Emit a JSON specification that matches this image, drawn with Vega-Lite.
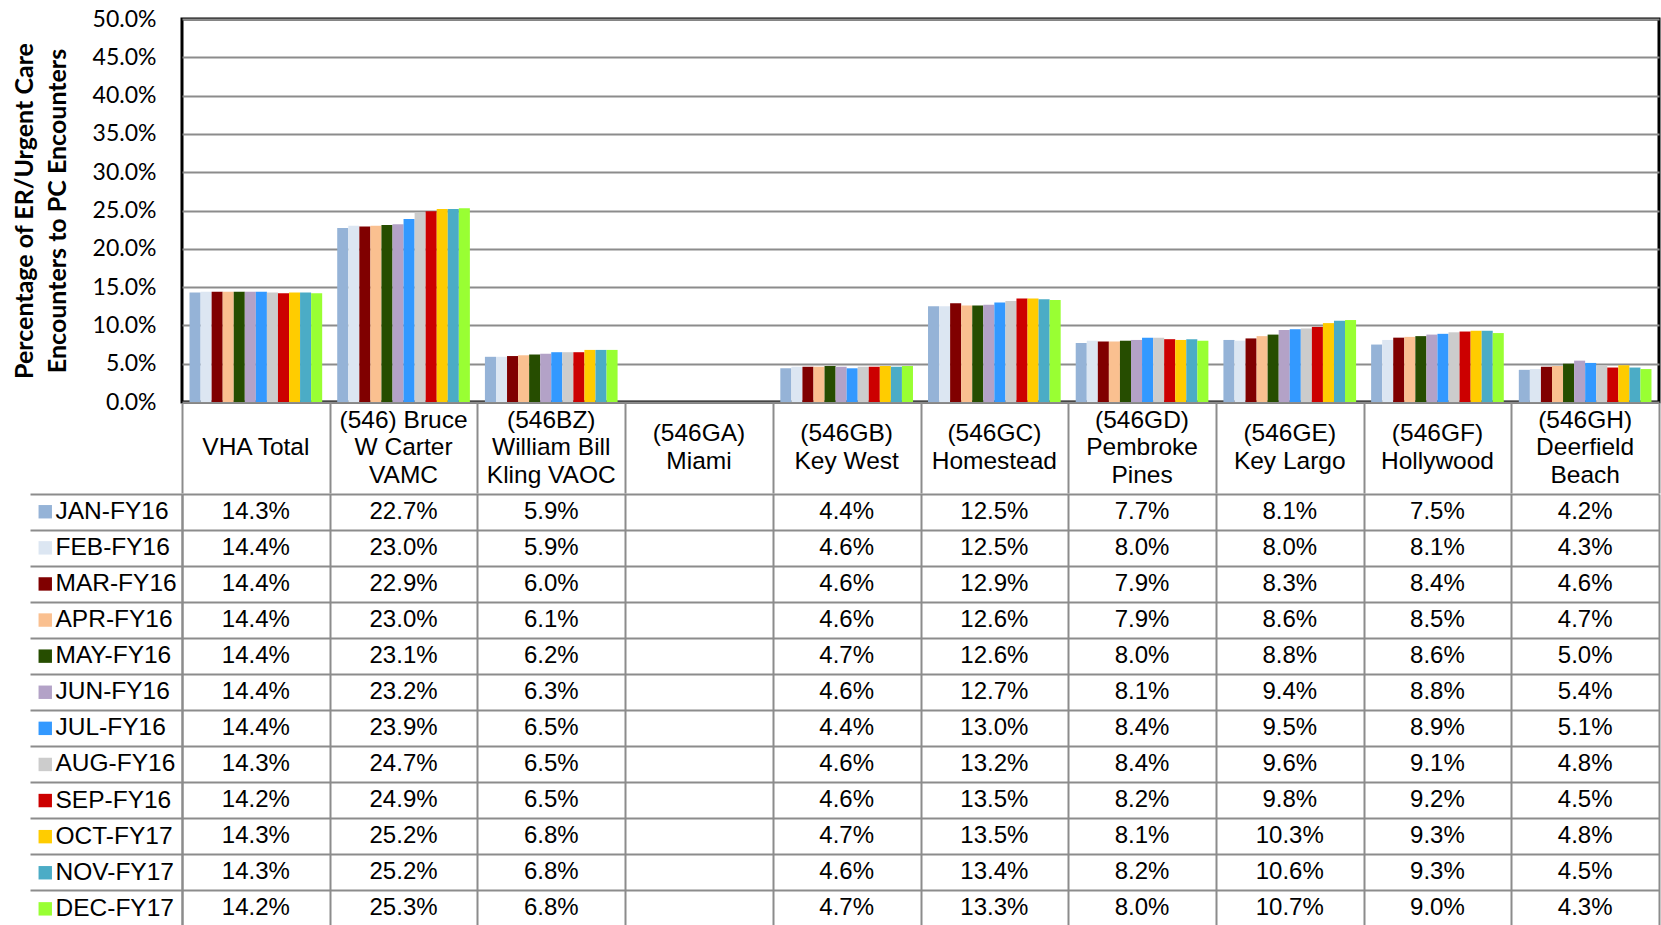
{
  "$schema": "https://vega.github.io/schema/vega-lite/v6.json",
  "padding": {"left": 10, "top": 6, "right": 0, "bottom": 0},
  "background": "white",
  "spacing": 1,
  "bounds": "flush",
  "config": {"font": "Liberation Sans", "view": {"stroke": null}},
  "resolve": {"scale": {"x": "independent", "y": "independent", "color": "independent"}, "legend": {"color": "independent"}},
  "datasets": {
    "sites": [
      {"site": "VHA Total"},
      {"site": "(546) Bruce\nW Carter\nVAMC"},
      {"site": "(546BZ)\nWilliam Bill\nKling VAOC"},
      {"site": "(546GA)\nMiami"},
      {"site": "(546GB)\nKey West"},
      {"site": "(546GC)\nHomestead"},
      {"site": "(546GD)\nPembroke\nPines"},
      {"site": "(546GE)\nKey Largo"},
      {"site": "(546GF)\nHollywood"},
      {"site": "(546GH)\nDeerfield\nBeach"}
    ],
    "rates": [
      {"site": "VHA Total", "month": "JAN-FY16", "value": 0.143},
      {"site": "VHA Total", "month": "FEB-FY16", "value": 0.144},
      {"site": "VHA Total", "month": "MAR-FY16", "value": 0.144},
      {"site": "VHA Total", "month": "APR-FY16", "value": 0.144},
      {"site": "VHA Total", "month": "MAY-FY16", "value": 0.144},
      {"site": "VHA Total", "month": "JUN-FY16", "value": 0.144},
      {"site": "VHA Total", "month": "JUL-FY16", "value": 0.144},
      {"site": "VHA Total", "month": "AUG-FY16", "value": 0.143},
      {"site": "VHA Total", "month": "SEP-FY16", "value": 0.142},
      {"site": "VHA Total", "month": "OCT-FY17", "value": 0.143},
      {"site": "VHA Total", "month": "NOV-FY17", "value": 0.143},
      {"site": "VHA Total", "month": "DEC-FY17", "value": 0.142},
      {"site": "(546) Bruce\nW Carter\nVAMC", "month": "JAN-FY16", "value": 0.227},
      {"site": "(546) Bruce\nW Carter\nVAMC", "month": "FEB-FY16", "value": 0.230},
      {"site": "(546) Bruce\nW Carter\nVAMC", "month": "MAR-FY16", "value": 0.229},
      {"site": "(546) Bruce\nW Carter\nVAMC", "month": "APR-FY16", "value": 0.230},
      {"site": "(546) Bruce\nW Carter\nVAMC", "month": "MAY-FY16", "value": 0.231},
      {"site": "(546) Bruce\nW Carter\nVAMC", "month": "JUN-FY16", "value": 0.232},
      {"site": "(546) Bruce\nW Carter\nVAMC", "month": "JUL-FY16", "value": 0.239},
      {"site": "(546) Bruce\nW Carter\nVAMC", "month": "AUG-FY16", "value": 0.247},
      {"site": "(546) Bruce\nW Carter\nVAMC", "month": "SEP-FY16", "value": 0.249},
      {"site": "(546) Bruce\nW Carter\nVAMC", "month": "OCT-FY17", "value": 0.252},
      {"site": "(546) Bruce\nW Carter\nVAMC", "month": "NOV-FY17", "value": 0.252},
      {"site": "(546) Bruce\nW Carter\nVAMC", "month": "DEC-FY17", "value": 0.253},
      {"site": "(546BZ)\nWilliam Bill\nKling VAOC", "month": "JAN-FY16", "value": 0.059},
      {"site": "(546BZ)\nWilliam Bill\nKling VAOC", "month": "FEB-FY16", "value": 0.059},
      {"site": "(546BZ)\nWilliam Bill\nKling VAOC", "month": "MAR-FY16", "value": 0.060},
      {"site": "(546BZ)\nWilliam Bill\nKling VAOC", "month": "APR-FY16", "value": 0.061},
      {"site": "(546BZ)\nWilliam Bill\nKling VAOC", "month": "MAY-FY16", "value": 0.062},
      {"site": "(546BZ)\nWilliam Bill\nKling VAOC", "month": "JUN-FY16", "value": 0.063},
      {"site": "(546BZ)\nWilliam Bill\nKling VAOC", "month": "JUL-FY16", "value": 0.065},
      {"site": "(546BZ)\nWilliam Bill\nKling VAOC", "month": "AUG-FY16", "value": 0.065},
      {"site": "(546BZ)\nWilliam Bill\nKling VAOC", "month": "SEP-FY16", "value": 0.065},
      {"site": "(546BZ)\nWilliam Bill\nKling VAOC", "month": "OCT-FY17", "value": 0.068},
      {"site": "(546BZ)\nWilliam Bill\nKling VAOC", "month": "NOV-FY17", "value": 0.068},
      {"site": "(546BZ)\nWilliam Bill\nKling VAOC", "month": "DEC-FY17", "value": 0.068},
      {"site": "(546GB)\nKey West", "month": "JAN-FY16", "value": 0.044},
      {"site": "(546GB)\nKey West", "month": "FEB-FY16", "value": 0.046},
      {"site": "(546GB)\nKey West", "month": "MAR-FY16", "value": 0.046},
      {"site": "(546GB)\nKey West", "month": "APR-FY16", "value": 0.046},
      {"site": "(546GB)\nKey West", "month": "MAY-FY16", "value": 0.047},
      {"site": "(546GB)\nKey West", "month": "JUN-FY16", "value": 0.046},
      {"site": "(546GB)\nKey West", "month": "JUL-FY16", "value": 0.044},
      {"site": "(546GB)\nKey West", "month": "AUG-FY16", "value": 0.046},
      {"site": "(546GB)\nKey West", "month": "SEP-FY16", "value": 0.046},
      {"site": "(546GB)\nKey West", "month": "OCT-FY17", "value": 0.047},
      {"site": "(546GB)\nKey West", "month": "NOV-FY17", "value": 0.046},
      {"site": "(546GB)\nKey West", "month": "DEC-FY17", "value": 0.047},
      {"site": "(546GC)\nHomestead", "month": "JAN-FY16", "value": 0.125},
      {"site": "(546GC)\nHomestead", "month": "FEB-FY16", "value": 0.125},
      {"site": "(546GC)\nHomestead", "month": "MAR-FY16", "value": 0.129},
      {"site": "(546GC)\nHomestead", "month": "APR-FY16", "value": 0.126},
      {"site": "(546GC)\nHomestead", "month": "MAY-FY16", "value": 0.126},
      {"site": "(546GC)\nHomestead", "month": "JUN-FY16", "value": 0.127},
      {"site": "(546GC)\nHomestead", "month": "JUL-FY16", "value": 0.130},
      {"site": "(546GC)\nHomestead", "month": "AUG-FY16", "value": 0.132},
      {"site": "(546GC)\nHomestead", "month": "SEP-FY16", "value": 0.135},
      {"site": "(546GC)\nHomestead", "month": "OCT-FY17", "value": 0.135},
      {"site": "(546GC)\nHomestead", "month": "NOV-FY17", "value": 0.134},
      {"site": "(546GC)\nHomestead", "month": "DEC-FY17", "value": 0.133},
      {"site": "(546GD)\nPembroke\nPines", "month": "JAN-FY16", "value": 0.077},
      {"site": "(546GD)\nPembroke\nPines", "month": "FEB-FY16", "value": 0.080},
      {"site": "(546GD)\nPembroke\nPines", "month": "MAR-FY16", "value": 0.079},
      {"site": "(546GD)\nPembroke\nPines", "month": "APR-FY16", "value": 0.079},
      {"site": "(546GD)\nPembroke\nPines", "month": "MAY-FY16", "value": 0.080},
      {"site": "(546GD)\nPembroke\nPines", "month": "JUN-FY16", "value": 0.081},
      {"site": "(546GD)\nPembroke\nPines", "month": "JUL-FY16", "value": 0.084},
      {"site": "(546GD)\nPembroke\nPines", "month": "AUG-FY16", "value": 0.084},
      {"site": "(546GD)\nPembroke\nPines", "month": "SEP-FY16", "value": 0.082},
      {"site": "(546GD)\nPembroke\nPines", "month": "OCT-FY17", "value": 0.081},
      {"site": "(546GD)\nPembroke\nPines", "month": "NOV-FY17", "value": 0.082},
      {"site": "(546GD)\nPembroke\nPines", "month": "DEC-FY17", "value": 0.080},
      {"site": "(546GE)\nKey Largo", "month": "JAN-FY16", "value": 0.081},
      {"site": "(546GE)\nKey Largo", "month": "FEB-FY16", "value": 0.080},
      {"site": "(546GE)\nKey Largo", "month": "MAR-FY16", "value": 0.083},
      {"site": "(546GE)\nKey Largo", "month": "APR-FY16", "value": 0.086},
      {"site": "(546GE)\nKey Largo", "month": "MAY-FY16", "value": 0.088},
      {"site": "(546GE)\nKey Largo", "month": "JUN-FY16", "value": 0.094},
      {"site": "(546GE)\nKey Largo", "month": "JUL-FY16", "value": 0.095},
      {"site": "(546GE)\nKey Largo", "month": "AUG-FY16", "value": 0.096},
      {"site": "(546GE)\nKey Largo", "month": "SEP-FY16", "value": 0.098},
      {"site": "(546GE)\nKey Largo", "month": "OCT-FY17", "value": 0.103},
      {"site": "(546GE)\nKey Largo", "month": "NOV-FY17", "value": 0.106},
      {"site": "(546GE)\nKey Largo", "month": "DEC-FY17", "value": 0.107},
      {"site": "(546GF)\nHollywood", "month": "JAN-FY16", "value": 0.075},
      {"site": "(546GF)\nHollywood", "month": "FEB-FY16", "value": 0.081},
      {"site": "(546GF)\nHollywood", "month": "MAR-FY16", "value": 0.084},
      {"site": "(546GF)\nHollywood", "month": "APR-FY16", "value": 0.085},
      {"site": "(546GF)\nHollywood", "month": "MAY-FY16", "value": 0.086},
      {"site": "(546GF)\nHollywood", "month": "JUN-FY16", "value": 0.088},
      {"site": "(546GF)\nHollywood", "month": "JUL-FY16", "value": 0.089},
      {"site": "(546GF)\nHollywood", "month": "AUG-FY16", "value": 0.091},
      {"site": "(546GF)\nHollywood", "month": "SEP-FY16", "value": 0.092},
      {"site": "(546GF)\nHollywood", "month": "OCT-FY17", "value": 0.093},
      {"site": "(546GF)\nHollywood", "month": "NOV-FY17", "value": 0.093},
      {"site": "(546GF)\nHollywood", "month": "DEC-FY17", "value": 0.090},
      {"site": "(546GH)\nDeerfield\nBeach", "month": "JAN-FY16", "value": 0.042},
      {"site": "(546GH)\nDeerfield\nBeach", "month": "FEB-FY16", "value": 0.043},
      {"site": "(546GH)\nDeerfield\nBeach", "month": "MAR-FY16", "value": 0.046},
      {"site": "(546GH)\nDeerfield\nBeach", "month": "APR-FY16", "value": 0.047},
      {"site": "(546GH)\nDeerfield\nBeach", "month": "MAY-FY16", "value": 0.050},
      {"site": "(546GH)\nDeerfield\nBeach", "month": "JUN-FY16", "value": 0.054},
      {"site": "(546GH)\nDeerfield\nBeach", "month": "JUL-FY16", "value": 0.051},
      {"site": "(546GH)\nDeerfield\nBeach", "month": "AUG-FY16", "value": 0.048},
      {"site": "(546GH)\nDeerfield\nBeach", "month": "SEP-FY16", "value": 0.045},
      {"site": "(546GH)\nDeerfield\nBeach", "month": "OCT-FY17", "value": 0.048},
      {"site": "(546GH)\nDeerfield\nBeach", "month": "NOV-FY17", "value": 0.045},
      {"site": "(546GH)\nDeerfield\nBeach", "month": "DEC-FY17", "value": 0.043}
    ]
  },
  "vconcat": [
    {
      "width": 1477,
      "height": 383,
      "data": {"name": "rates"},
      "view": {"stroke": "#000000", "strokeWidth": 3},
      "mark": {"type": "bar"},
      "encoding": {
        "x": {"field": "site", "type": "nominal",
          "scale": {"domain": ["VHA Total", "(546) Bruce\nW Carter\nVAMC", "(546BZ)\nWilliam Bill\nKling VAOC", "(546GA)\nMiami", "(546GB)\nKey West", "(546GC)\nHomestead", "(546GD)\nPembroke\nPines", "(546GE)\nKey Largo", "(546GF)\nHollywood", "(546GH)\nDeerfield\nBeach"], "paddingInner": 0, "paddingOuter": 0},
          "axis": null},
        "xOffset": {"field": "month", "type": "nominal",
          "scale": {"domain": ["JAN-FY16", "FEB-FY16", "MAR-FY16", "APR-FY16", "MAY-FY16", "JUN-FY16", "JUL-FY16", "AUG-FY16", "SEP-FY16", "OCT-FY17", "NOV-FY17", "DEC-FY17"], "paddingInner": 0, "paddingOuter": 0.68}},
        "y": {"field": "value", "type": "quantitative",
          "scale": {"domain": [0, 0.5]},
          "axis": {"values": [0, 0.05, 0.1, 0.15, 0.2, 0.25, 0.3, 0.35, 0.4, 0.45, 0.5], "format": ".1%",
            "grid": true, "gridColor": "#8c8c8c", "gridWidth": 2, "ticks": false, "domain": false,
            "labelFont": "Lato", "labelFontSize": 23, "labelColor": "#000000", "labelPadding": 26,
            "title": ["Percentage of ER/Urgent Care", "Encounters to PC Encounters"],
            "titleFont": "Lato", "titleFontWeight": "bold", "titleFontSize": 25, "titleColor": "#000000",
            "titlePadding": 22, "titleLineHeight": 33}},
        "color": {"field": "month", "type": "nominal",
          "scale": {"domain": ["JAN-FY16", "FEB-FY16", "MAR-FY16", "APR-FY16", "MAY-FY16", "JUN-FY16", "JUL-FY16", "AUG-FY16", "SEP-FY16", "OCT-FY17", "NOV-FY17", "DEC-FY17"],
            "range": ["#95B3D7", "#DCE6F2", "#800000", "#FAC090", "#264D00", "#B3A2C7", "#3399FF", "#CCCCCC", "#CC0000", "#FFCC00", "#4BACC6", "#99FF33"]},
          "legend": null}
      }
    },
    {
      "width": 1477,
      "height": 90,
      "data": {"name": "sites"},
      "encoding": {
        "x": {"field": "site", "type": "nominal",
          "scale": {"domain": ["VHA Total", "(546) Bruce\nW Carter\nVAMC", "(546BZ)\nWilliam Bill\nKling VAOC", "(546GA)\nMiami", "(546GB)\nKey West", "(546GC)\nHomestead", "(546GD)\nPembroke\nPines", "(546GE)\nKey Largo", "(546GF)\nHollywood", "(546GH)\nDeerfield\nBeach"], "paddingInner": 0, "paddingOuter": 0},
          "axis": {"grid": true, "tickBand": "extent", "gridColor": "#8c8c8c", "gridWidth": 2, "labels": false, "ticks": false, "domain": false, "title": null}},
        "text": {"field": "site", "type": "nominal"}
      },
      "layer": [
        {
          "transform": [{"filter": "length(split(datum.site, '\\n')) == 1"}],
          "mark": {"type": "text", "lineBreak": "\n", "lineHeight": 27.5, "fontSize": 24.5, "font": "Liberation Sans", "color": "#000000", "baseline": "middle", "align": "center", "dy": 0}
        },
        {
          "transform": [{"filter": "length(split(datum.site, '\\n')) == 2"}],
          "mark": {"type": "text", "lineBreak": "\n", "lineHeight": 27.5, "fontSize": 24.5, "font": "Liberation Sans", "color": "#000000", "baseline": "middle", "align": "center", "dy": -13.75}
        },
        {
          "transform": [{"filter": "length(split(datum.site, '\\n')) == 3"}],
          "mark": {"type": "text", "lineBreak": "\n", "lineHeight": 27.5, "fontSize": 24.5, "font": "Liberation Sans", "color": "#000000", "baseline": "middle", "align": "center", "dy": -27.5}
        }
      ]
    },
    {
      "width": 1477,
      "height": 432,
      "data": {"name": "rates"},
      "encoding": {
        "x": {"field": "site", "type": "nominal",
          "scale": {"domain": ["VHA Total", "(546) Bruce\nW Carter\nVAMC", "(546BZ)\nWilliam Bill\nKling VAOC", "(546GA)\nMiami", "(546GB)\nKey West", "(546GC)\nHomestead", "(546GD)\nPembroke\nPines", "(546GE)\nKey Largo", "(546GF)\nHollywood", "(546GH)\nDeerfield\nBeach"], "paddingInner": 0, "paddingOuter": 0},
          "axis": {"grid": true, "tickBand": "extent", "gridColor": "#8c8c8c", "gridWidth": 2, "labels": false, "ticks": false, "domain": false, "title": null}}
      },
      "layer": [
        {
          "mark": {"type": "text", "fontSize": 24, "font": "Liberation Sans", "color": "#000000", "baseline": "middle", "align": "center"},
          "encoding": {
            "y": {"field": "month", "type": "nominal",
              "scale": {"domain": ["JAN-FY16", "FEB-FY16", "MAR-FY16", "APR-FY16", "MAY-FY16", "JUN-FY16", "JUL-FY16", "AUG-FY16", "SEP-FY16", "OCT-FY17", "NOV-FY17", "DEC-FY17"], "paddingInner": 0, "paddingOuter": 0},
              "axis": {"grid": true, "tickBand": "extent", "gridColor": "#8c8c8c", "gridWidth": 2, "ticks": true, "tickSize": 152, "tickColor": "#8c8c8c", "tickWidth": 2, "labels": false, "domain": true, "domainColor": "#8c8c8c", "domainWidth": 2, "title": null}},
            "text": {"field": "value", "type": "quantitative", "format": ".1%"}
          }
        },
        {
          "mark": {"type": "point", "shape": "square", "filled": true, "size": 0, "strokeWidth": 0},
          "encoding": {
            "y": {"field": "month", "type": "nominal",
              "scale": {"domain": ["JAN-FY16", "FEB-FY16", "MAR-FY16", "APR-FY16", "MAY-FY16", "JUN-FY16", "JUL-FY16", "AUG-FY16", "SEP-FY16", "OCT-FY17", "NOV-FY17", "DEC-FY17"], "paddingInner": 0, "paddingOuter": 0},
              "axis": {"offset": 152, "grid": false, "ticks": false, "labels": false, "domain": true, "domainColor": "#8c8c8c", "domainWidth": 2, "title": null}},
            "color": {"field": "month", "type": "nominal",
              "scale": {"domain": ["JAN-FY16", "FEB-FY16", "MAR-FY16", "APR-FY16", "MAY-FY16", "JUN-FY16", "JUL-FY16", "AUG-FY16", "SEP-FY16", "OCT-FY17", "NOV-FY17", "DEC-FY17"],
                "range": ["#95B3D7", "#DCE6F2", "#800000", "#FAC090", "#264D00", "#B3A2C7", "#3399FF", "#CCCCCC", "#CC0000", "#FFCC00", "#4BACC6", "#99FF33"]},
              "legend": {"orient": "none", "legendX": -149, "legendY": 5.5, "title": null, "direction": "vertical",
                "symbolType": "square", "symbolSize": 180, "symbolOpacity": 1, "symbolStrokeWidth": 0,
                "labelFont": "Liberation Sans", "labelFontSize": 24.5, "labelColor": "#000000",
                "rowPadding": 11.1, "labelOffset": -2, "padding": 0}}
          }
        }
      ],
      "resolve": {"scale": {"y": "independent"}, "axis": {"y": "independent"}}
    }
  ]
}
